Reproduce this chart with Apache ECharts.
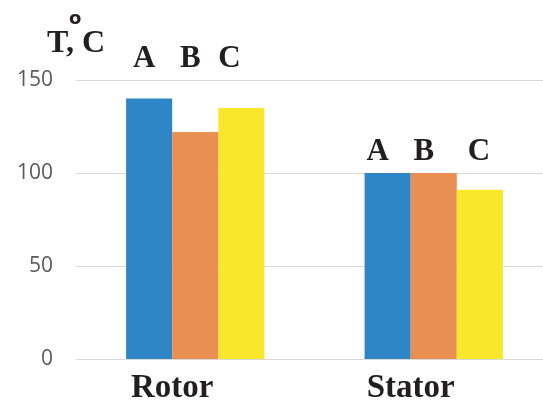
<!DOCTYPE html>
<html>
<head>
<meta charset="utf-8">
<script src="https://cdn.jsdelivr.net/npm/echarts@6/dist/echarts.min.js"></script>
<style>
  html, body { margin: 0; padding: 0; background: #fff; }
  #chart { width: 543px; height: 403px; }
</style>
</head>
<body>
<div id="chart"></div>
<script>
// data
var categories = ["Rotor", "Stator"];
var seriesNames = ["A", "B", "C"];
var valuesA = [140, 100];
var valuesB = [122, 100];
var valuesC = [135, 91];
var yTicks = [0, 50, 100, 150];
// level (in axis units) where the A/B/C letters sit above each group
var letterLevel = [153, 103];

var colors = ["#2f86c6", "#e98f52", "#f8e72a"];
var serif = "'Liberation Serif', 'DejaVu Serif', serif";
// horizontal nudge of each letter from its bar centre (px), per series / category
var letterShift = [[-5, -10], [-5, -10], [-12, -1]];

var chart = echarts.init(document.getElementById("chart"));

function makeSeries(name, values, color) {
    return {
        name: name,
        type: "bar",
        barGap: "0%",
        barCategoryGap: "42%",
        itemStyle: { color: color },
        data: values.slice(),
        label: {
            show: true,
            position: "top",
            distance: 0,
            formatter: name,
            color: "#231f20",
            fontFamily: serif,
            fontWeight: "bold",
            fontSize: 31
        }
    };
}

var option = {
    animation: false,
    title: {
        text: "T, C",
        left: 47,
        top: 28,
        padding: 0,
        textStyle: { fontFamily: serif, fontWeight: "bold", fontSize: 32, color: "#231f20" }
    },
    graphic: [{
        type: "text",
        left: 69,
        top: 10,
        style: { text: "o", font: "bold 18px 'DejaVu Sans', sans-serif", fill: "#231f20" }
    }],
    grid: { left: 76, width: 477, top: 80, bottom: 44, outerBoundsMode: "none" },
    xAxis: {
        type: "category",
        data: categories,
        axisTick: { show: false },
        axisLine: { lineStyle: { color: "#d9d9d9", width: 1 } },
        axisLabel: {
            margin: 13,
            color: "#231f20",
            fontFamily: serif,
            fontWeight: "bold",
            fontSize: 33,
            padding: [0, 46, 0, 0]
        }
    },
    yAxis: {
        type: "value",
        min: yTicks[0],
        max: yTicks[yTicks.length - 1],
        interval: yTicks[1] - yTicks[0],
        axisLine: { show: false },
        axisTick: { show: false },
        splitLine: { lineStyle: { color: "#d9d9d9", width: 1 } },
        axisLabel: {
            margin: 23,
            color: "#595959",
            fontFamily: "'Open Sans', 'Liberation Sans', sans-serif",
            fontSize: 21
        }
    },
    series: [
        makeSeries(seriesNames[0], valuesA, colors[0]),
        makeSeries(seriesNames[1], valuesB, colors[1]),
        makeSeries(seriesNames[2], valuesC, colors[2])
    ]
};
chart.setOption(option);

// lift each letter from its bar top to the shared level of its group
var allValues = [valuesA, valuesB, valuesC];
var newSeries = allValues.map(function (vals, s) {
    return {
        data: vals.map(function (v, i) {
            var pv = chart.convertToPixel({ yAxisIndex: 0 }, v);
            var pl = chart.convertToPixel({ yAxisIndex: 0 }, letterLevel[i]);
            return { value: v, label: { offset: [letterShift[s][i], pl - pv] } };
        })
    };
});
chart.setOption({ series: newSeries });
</script>
</body>
</html>
